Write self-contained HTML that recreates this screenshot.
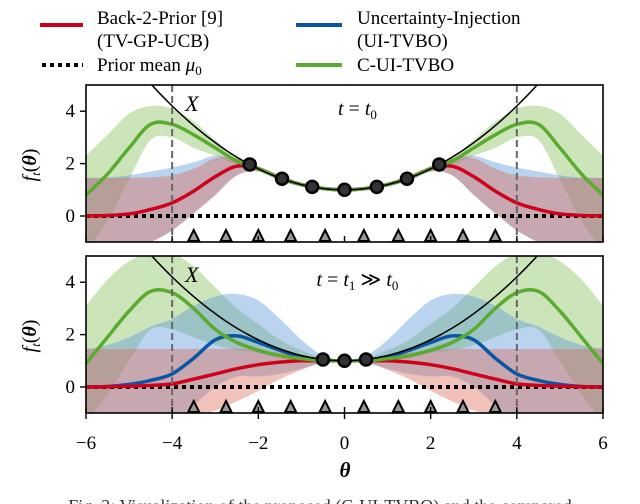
<!DOCTYPE html>
<html><head><meta charset="utf-8">
<style>
html,body{margin:0;padding:0;background:#fff;}
svg{display:block;font-family:"Liberation Serif",serif;}
</style></head>
<body>
<svg id="chart" width="640" height="504" viewBox="0 0 640 504">
  <defs>
    <clipPath id="clipTop"><rect x="86" y="85" width="517" height="157"/></clipPath>
    <clipPath id="clipBot"><rect x="86" y="256" width="517" height="157"/></clipPath>
  </defs>
  <g>
    <line x1="40" y1="25" x2="83" y2="25" stroke="#d0021b" stroke-width="4"/>
    <text x="97" y="24" font-size="19">Back-2-Prior [9]</text>
    <text x="97" y="47" font-size="19">(TV-GP-UCB)</text>
    <line x1="42" y1="65" x2="83" y2="65" stroke="#000" stroke-width="4" stroke-dasharray="4,4"/>
    <text x="97" y="71" font-size="19">Prior mean <tspan font-style="italic">μ</tspan><tspan font-size="13" dy="4">0</tspan></text>
    <line x1="296" y1="25" x2="342" y2="25" stroke="#0b56a4" stroke-width="4"/>
    <text x="357" y="24" font-size="19">Uncertainty-Injection</text>
    <text x="357" y="47" font-size="19">(UI-TVBO)</text>
    <line x1="296" y1="65" x2="342" y2="65" stroke="#5aab2e" stroke-width="4"/>
    <text x="357" y="71" font-size="19">C-UI-TVBO</text>
  </g>
  <g id="panels"></g>
  <text x="345" y="477" font-size="21" font-weight="bold" font-style="italic" text-anchor="middle">θ</text>
  <text x="320" y="512" font-size="18" fill="#333" text-anchor="middle">Fig. 3: Visualization of the proposed (C-UI-TVBO) and the compared</text>
</svg>
<script>
const thetaGrid = [-6,-5.5,-5,-4.5,-4,-3.5,-3,-2.5,-2,-1.5,-1,-0.5,0];
// top panel (half; mirrored)
const topRedMean  = [0,0.02,0.08,0.25,0.5,0.95,1.5,1.9,1.8,1.45,1.2,1.05,1.0];
const topRedUp    = [1.45,1.45,1.46,1.48,1.55,1.8,2.2,2.2,1.9,1.55,1.28,1.12,1.08];
const topRedLo    = [-1.45,-1.4,-1.3,-1.0,-0.55,0.1,0.8,1.55,1.7,1.35,1.12,0.98,0.92];
const topBlueUp   = [1.45,1.47,1.55,1.7,1.85,2.05,2.3,2.2,1.9,1.55,1.28,1.12,1.08];
const topGreenMean= [0.8,1.6,2.6,3.5,3.5,3.1,2.6,2.1,1.8,1.45,1.2,1.05,1.0];
const topGreenUp  = [2.3,3.1,3.9,4.2,4.1,3.6,2.9,2.25,1.88,1.5,1.25,1.1,1.05];
const topGreenLo  = [-1.3,-0.2,1.4,2.9,3.0,2.6,2.3,1.95,1.72,1.4,1.15,1.0,0.95];
const topPoints   = [-2.2,-1.45,-0.75,0,0.75,1.45,2.2];
// bottom panel
const botRedMean  = [0,0.01,0.03,0.06,0.12,0.3,0.5,0.7,0.85,0.95,1.0,1.0,1.0];
const botRedUp    = [1.45,1.45,1.45,1.45,1.45,1.45,1.45,1.45,1.4,1.3,1.2,1.1,1.05];
const botRedLo    = [-1.45,-1.45,-1.4,-1.3,-1.2,-1.1,-0.9,-0.55,-0.15,0.3,0.65,0.95,0.95];
const botBlueMean = [0,0.02,0.1,0.25,0.5,1.1,1.8,1.95,1.7,1.4,1.15,1.02,1.0];
const botBlueUp   = [1.45,1.6,1.9,2.3,2.6,3.1,3.45,3.55,3.3,2.6,1.8,1.2,1.05];
const botBlueLo   = [-1.45,-1.5,-1.6,-1.5,-1.3,-0.7,0,0.4,0.4,0.5,0.7,0.9,0.95];
const botGreenMean= [0.9,1.9,2.9,3.65,3.6,3.0,2.2,1.7,1.4,1.2,1.08,1.0,1.0];
const botGreenUp  = [3.1,4.1,4.8,5.1,5.1,4.6,3.8,3.0,2.4,1.8,1.4,1.1,1.05];
const botGreenLo  = [-1.3,-0.3,1.0,2.2,2.2,1.9,1.6,1.4,1.3,1.1,1.0,0.95,0.95];
const botPoints   = [-0.5,0,0.5];
const triPoints   = [-3.5,-2.75,-2.0,-1.25,-0.45,0.45,1.25,2.0,2.75,3.5];
const xTicks = [-6,-4,-2,0,2,4,6];
const yTicks = [0,2,4];

const NS = "http://www.w3.org/2000/svg";
const X0 = 86, X1 = 603;
function sx(t){ return X0 + (t + 6) / 12 * (X1 - X0); }
function mirror(a){ return a.concat(a.slice(0,-1).reverse()); }
const fullTheta = thetaGrid.concat(thetaGrid.slice(0,-1).reverse().map(v=>-v));
function mk(tag, attrs, parent){
  const e = document.createElementNS(NS, tag);
  for (const k in attrs) e.setAttribute(k, attrs[k]);
  parent.appendChild(e); return e;
}
function crPath(pts, move){
  let d = (move ? "M" : "L") + pts[0][0].toFixed(1) + "," + pts[0][1].toFixed(1);
  for (let i=0;i<pts.length-1;i++){
    const p0 = pts[Math.max(i-1,0)], p1 = pts[i], p2 = pts[i+1], p3 = pts[Math.min(i+2,pts.length-1)];
    const c1 = [p1[0]+(p2[0]-p0[0])/6, p1[1]+(p2[1]-p0[1])/6];
    const c2 = [p2[0]-(p3[0]-p1[0])/6, p2[1]-(p3[1]-p1[1])/6];
    d += "C"+c1[0].toFixed(1)+","+c1[1].toFixed(1)+" "+c2[0].toFixed(1)+","+c2[1].toFixed(1)+" "+p2[0].toFixed(1)+","+p2[1].toFixed(1);
  }
  return d;
}
const root = document.getElementById("panels");

function panel(name, top, clipId, cfg){
  const y0 = top + 131; // y=0
  const sy = v => y0 - v * 26.2;
  const g = mk("g", {}, root);
  
  
  const cg = mk("g", {"clip-path":"url(#"+clipId+")"}, g);
  function band(up, lo, fill, nm){
    const U = mirror(up).map((v,i)=>[sx(fullTheta[i]), sy(v)]);
    const L = mirror(lo).map((v,i)=>[sx(fullTheta[i]), sy(v)]).reverse();
    const p = mk("path", {d: crPath(U,true) + crPath(L,false) + "Z", fill: fill, stroke: "none"}, cg);
    
    
    return p;
  }
  function line(vals, color, w, nm){
    const P = mirror(vals).map((v,i)=>[sx(fullTheta[i]), sy(v)]);
    const p = mk("path", {d: crPath(P,true), fill:"none", stroke: color, "stroke-width": w}, cg);
    
    
  }
  band(cfg.greenUp, cfg.greenLo, "rgba(120,185,70,0.38)", "green-band");
  band(cfg.blueUp, cfg.blueLo, "rgba(90,150,215,0.42)", "blue-band");
  band(cfg.redUp, cfg.redLo, "rgba(220,110,90,0.42)", "red-band");
  const tp = [];
  for (let t=-6; t<=6.001; t+=0.25) tp.push([sx(t), sy(1 + t*t/5)]);
  const tf = mk("path", {d: crPath(tp,true), fill:"none", stroke:"#000", "stroke-width":1.5}, cg);
  
  
  const pm = mk("line", {x1:X0, x2:X1, y1:sy(0), y2:sy(0), stroke:"#000", "stroke-width":4, "stroke-dasharray":"4,4"}, cg);
  
  
  if (cfg.blueMean) line(cfg.blueMean, "#0b56a4", 3.5, "blue-mean");
  line(cfg.redMean, "#d0021b", 3.5, "red-mean");
  line(cfg.greenMean, "#5aab2e", 3.5, "green-mean");
  mk("path", {d: crPath(tp.filter(p=>Math.abs((p[0]-sx(0))/43.1)<2.3),true), fill:"none", stroke:"#000", "stroke-width":1.5}, cg);
  [-4,4].forEach(v=>{
    const l = mk("line", {x1:sx(v), x2:sx(v), y1:top, y2:top+157, stroke:"#666", "stroke-width":2, "stroke-dasharray":"7,4"}, cg);
    
    
  });
  triPoints.forEach(t=>{
    const x = sx(t), yb = top + 156;
    const tr = mk("path", {d:`M${x-5.5},${yb}L${x},${yb-11}L${x+5.5},${yb}Z`, fill:"#999", stroke:"#000", "stroke-width":2}, cg);
    
    
  });
  cfg.points.forEach(t=>{
    const c = mk("circle", {cx:sx(t), cy:sy(1+t*t/5), r:6, fill:"#333", stroke:"#000", "stroke-width":2.5}, cg);
    
    
  });
  const fr = mk("rect", {x:X0, y:top, width:X1-X0, height:157, fill:"none", stroke:"#000", "stroke-width":1.6}, g);
  
  
  yTicks.forEach(v=>{
    mk("line", {x1:X0-6, x2:X0, y1:sy(v), y2:sy(v), stroke:"#000", "stroke-width":1.4}, g);
    const t = mk("text", {x:X0-11, y:sy(v)+6, "font-size":19, "text-anchor":"end"}, g);
    t.textContent = v;
    
    
  });
  xTicks.forEach(v=>{
    mk("line", {x1:sx(v), x2:sx(v), y1:top+157, y2:top+151, stroke:"#000", "stroke-width":1.4}, g);
    if (cfg.xlabels){
      mk("line", {x1:sx(v), x2:sx(v), y1:top+157, y2:top+163, stroke:"#000", "stroke-width":1.4}, g);
      const t = mk("text", {x:sx(v), y:top+193, "font-size":19, "text-anchor":"middle"}, g);
      t.textContent = v < 0 ? "\u2212" + (-v) : v;
      
      
    }
  });
  const yl = mk("text", {x:0, y:0, "font-size":20, "text-anchor":"middle", transform:`translate(36,${top+80}) rotate(-90)`}, g);
  yl.innerHTML = '<tspan font-style="italic">f</tspan><tspan font-size="13" font-style="italic" dy="4">t</tspan><tspan dy="-4">(</tspan><tspan font-weight="bold" font-style="italic">θ</tspan>)';
  
  
  const xl = mk("text", {x:sx(-3.7), y:top+26, "font-size":22, "font-style":"italic"}, g);
  xl.textContent = "X";
  
  
  const ti = mk("text", {x:sx(0.3), y:top+30, "font-size":20, "text-anchor":"middle"}, g);
  ti.innerHTML = cfg.title;
  
  
}
panel("top-panel", 85, "clipTop", {
  redMean:topRedMean, redUp:topRedUp, redLo:topRedLo,
  blueUp:topBlueUp, blueLo:topRedLo, blueMean:null,
  greenMean:topGreenMean, greenUp:topGreenUp, greenLo:topGreenLo,
  points:topPoints, xlabels:false,
  title:'<tspan font-style="italic">t</tspan> = <tspan font-style="italic">t</tspan><tspan font-size="13" dy="4">0</tspan>'
});
panel("bottom-panel", 256, "clipBot", {
  redMean:botRedMean, redUp:botRedUp, redLo:botRedLo,
  blueUp:botBlueUp, blueLo:botBlueLo, blueMean:botBlueMean,
  greenMean:botGreenMean, greenUp:botGreenUp, greenLo:botGreenLo,
  points:botPoints, xlabels:true,
  title:'<tspan font-style="italic">t</tspan> = <tspan font-style="italic">t</tspan><tspan font-size="13" dy="4">1</tspan><tspan dy="-4"> ≫ </tspan><tspan font-style="italic">t</tspan><tspan font-size="13" dy="4">0</tspan>'
});
</script>
</body></html>
